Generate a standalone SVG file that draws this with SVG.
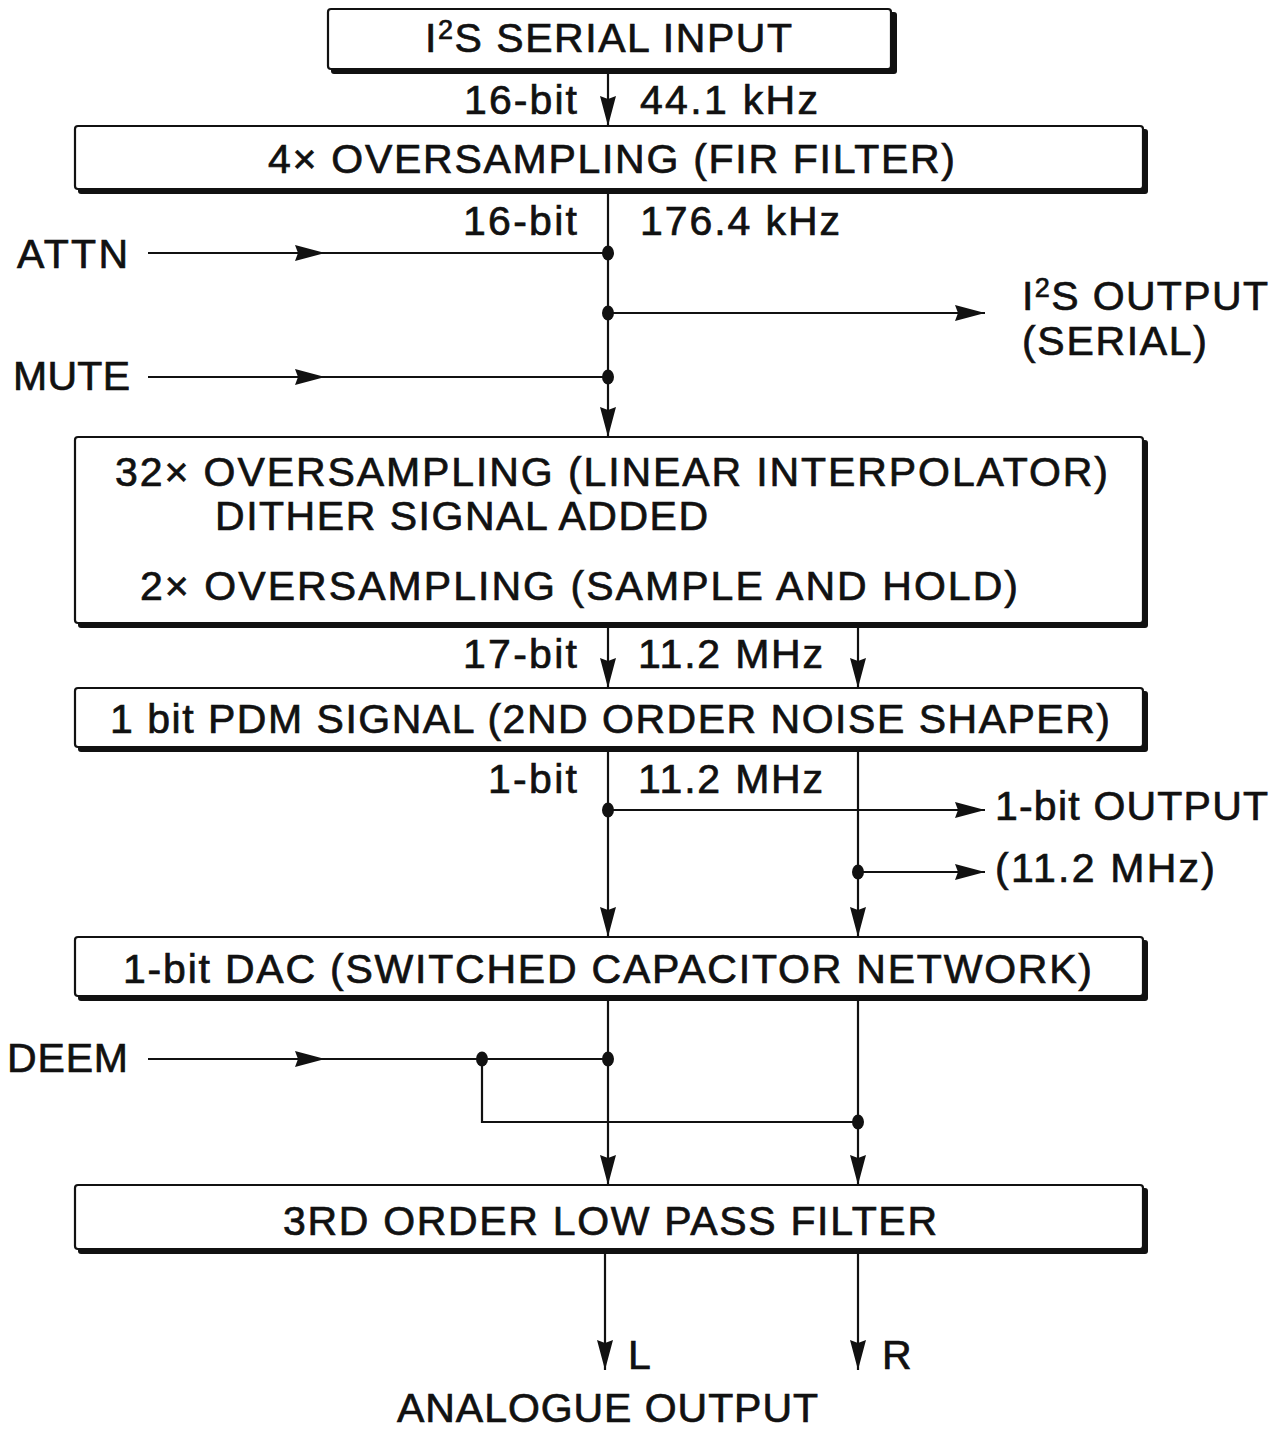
<svg xmlns="http://www.w3.org/2000/svg" width="1283" height="1432" viewBox="0 0 1283 1432">
  <style>
    text { font-family: "Liberation Sans", Arial, sans-serif; font-size: 41px; fill: #111; stroke: #111; stroke-width: 0.7; }
    .sup { font-size: 27px; }
    .frame { fill: #fff; stroke: #111; stroke-width: 2.2; }
    .shadow { fill: #111; }
    .wire { fill: none; stroke: #111; stroke-width: 2.2; }
    .dot { fill: #111; }
  </style>
  <defs>
    <marker id="ah" markerUnits="userSpaceOnUse" markerWidth="32" markerHeight="18" refX="30" refY="8" orient="auto">
      <path d="M0,0 L30,8 L0,16 L3,8 Z" fill="#111"/>
    </marker>
  </defs>

  <rect width="1283" height="1432" fill="#fff"/>

  <!-- blocks -->
  <g id="serial-input">
    <rect class="shadow" x="331" y="12" width="566" height="62" rx="3"/>
    <rect class="frame" x="328" y="9" width="563" height="60" rx="3"/>
    <text x="425" y="52" textLength="367" lengthAdjust="spacing">I<tspan class="sup" dy="-13">2</tspan><tspan dy="13">S SERIAL INPUT</tspan></text>
  </g>

  <g id="fir-filter">
    <rect class="shadow" x="78" y="129" width="1070" height="65" rx="3"/>
    <rect class="frame" x="75" y="126" width="1068" height="63" rx="3"/>
    <text x="268" y="173" textLength="687" lengthAdjust="spacing">4× OVERSAMPLING (FIR FILTER)</text>
  </g>

  <g id="interpolator">
    <rect class="shadow" x="78" y="440" width="1070" height="188" rx="3"/>
    <rect class="frame" x="75" y="437" width="1068" height="186" rx="3"/>
    <text x="115" y="486" textLength="993" lengthAdjust="spacing">32× OVERSAMPLING (LINEAR INTERPOLATOR)</text>
    <text x="215" y="530" textLength="493" lengthAdjust="spacing">DITHER SIGNAL ADDED</text>
    <text x="140" y="600" textLength="878" lengthAdjust="spacing">2× OVERSAMPLING (SAMPLE AND HOLD)</text>
  </g>

  <g id="noise-shaper">
    <rect class="shadow" x="78" y="691" width="1070" height="61" rx="3"/>
    <rect class="frame" x="75" y="688" width="1068" height="59" rx="3"/>
    <text x="110" y="733" textLength="1000" lengthAdjust="spacing">1 bit PDM SIGNAL (2ND ORDER NOISE SHAPER)</text>
  </g>

  <g id="dac">
    <rect class="shadow" x="78" y="940" width="1070" height="61" rx="3"/>
    <rect class="frame" x="75" y="937" width="1068" height="59" rx="3"/>
    <text x="123" y="983" textLength="969" lengthAdjust="spacing">1-bit DAC (SWITCHED CAPACITOR NETWORK)</text>
  </g>

  <g id="low-pass">
    <rect class="shadow" x="78" y="1188" width="1070" height="66" rx="3"/>
    <rect class="frame" x="75" y="1185" width="1068" height="64" rx="3"/>
    <text x="283" y="1235" textLength="654" lengthAdjust="spacing">3RD ORDER LOW PASS FILTER</text>
  </g>

  <!-- connectors -->
  <g id="connectors">
    <path class="wire" d="M608,69 L608,126" marker-end="url(#ah)"/>
    <path class="wire" d="M608,189 L608,437" marker-end="url(#ah)"/>
    <path class="wire" d="M148,253 L325,253 L608,253" marker-mid="url(#ah)"/>
    <path class="wire" d="M608,313 L985,313" marker-end="url(#ah)"/>
    <path class="wire" d="M148,377 L325,377 L608,377" marker-mid="url(#ah)"/>

    <path class="wire" d="M608,623 L608,688" marker-end="url(#ah)"/>
    <path class="wire" d="M858,623 L858,688" marker-end="url(#ah)"/>

    <path class="wire" d="M608,747 L608,937" marker-end="url(#ah)"/>
    <path class="wire" d="M858,747 L858,937" marker-end="url(#ah)"/>
    <path class="wire" d="M608,810 L985,810" marker-end="url(#ah)"/>
    <path class="wire" d="M858,872 L985,872" marker-end="url(#ah)"/>

    <path class="wire" d="M608,996 L608,1185" marker-end="url(#ah)"/>
    <path class="wire" d="M858,996 L858,1185" marker-end="url(#ah)"/>
    <path class="wire" d="M148,1059 L325,1059 L608,1059" marker-mid="url(#ah)"/>
    <path class="wire" d="M482,1059 L482,1122 L858,1122"/>

    <path class="wire" d="M605,1249 L605,1370" marker-end="url(#ah)"/>
    <path class="wire" d="M858,1249 L858,1370" marker-end="url(#ah)"/>

    <ellipse class="dot" cx="608" cy="253" rx="6" ry="7.5"/>
    <ellipse class="dot" cx="608" cy="313" rx="6" ry="7.5"/>
    <ellipse class="dot" cx="608" cy="377" rx="6" ry="7.5"/>
    <ellipse class="dot" cx="608" cy="810" rx="6" ry="7.5"/>
    <ellipse class="dot" cx="858" cy="872" rx="6" ry="7.5"/>
    <ellipse class="dot" cx="482" cy="1059" rx="6" ry="7.5"/>
    <ellipse class="dot" cx="608" cy="1059" rx="6" ry="7.5"/>
    <ellipse class="dot" cx="858" cy="1122" rx="6" ry="7.5"/>
  </g>

  <!-- signal labels -->
  <g id="labels">
    <text x="464" y="114" textLength="113" lengthAdjust="spacing">16-bit</text>
    <text x="640" y="114" textLength="178" lengthAdjust="spacing">44.1 kHz</text>
    <text x="463" y="235" textLength="114" lengthAdjust="spacing">16-bit</text>
    <text x="640" y="235" textLength="200" lengthAdjust="spacing">176.4 kHz</text>
    <text x="17" y="268" textLength="111" lengthAdjust="spacing">ATTN</text>
    <text x="1022" y="310" textLength="246" lengthAdjust="spacing">I<tspan class="sup" dy="-13">2</tspan><tspan dy="13">S OUTPUT</tspan></text>
    <text x="1022" y="355" textLength="185" lengthAdjust="spacing">(SERIAL)</text>
    <text x="13" y="390" textLength="117" lengthAdjust="spacing">MUTE</text>
    <text x="463" y="668" textLength="114" lengthAdjust="spacing">17-bit</text>
    <text x="638" y="668" textLength="185" lengthAdjust="spacing">11.2 MHz</text>
    <text x="488" y="793" textLength="89" lengthAdjust="spacing">1-bit</text>
    <text x="638" y="793" textLength="185" lengthAdjust="spacing">11.2 MHz</text>
    <text x="995" y="820" textLength="273" lengthAdjust="spacing">1-bit OUTPUT</text>
    <text x="995" y="882" textLength="220" lengthAdjust="spacing">(11.2 MHz)</text>
    <text x="7" y="1072" textLength="121" lengthAdjust="spacing">DEEM</text>
    <text x="628" y="1369">L</text>
    <text x="882" y="1369">R</text>
    <text x="397" y="1422" textLength="421" lengthAdjust="spacing">ANALOGUE OUTPUT</text>
  </g>
</svg>
